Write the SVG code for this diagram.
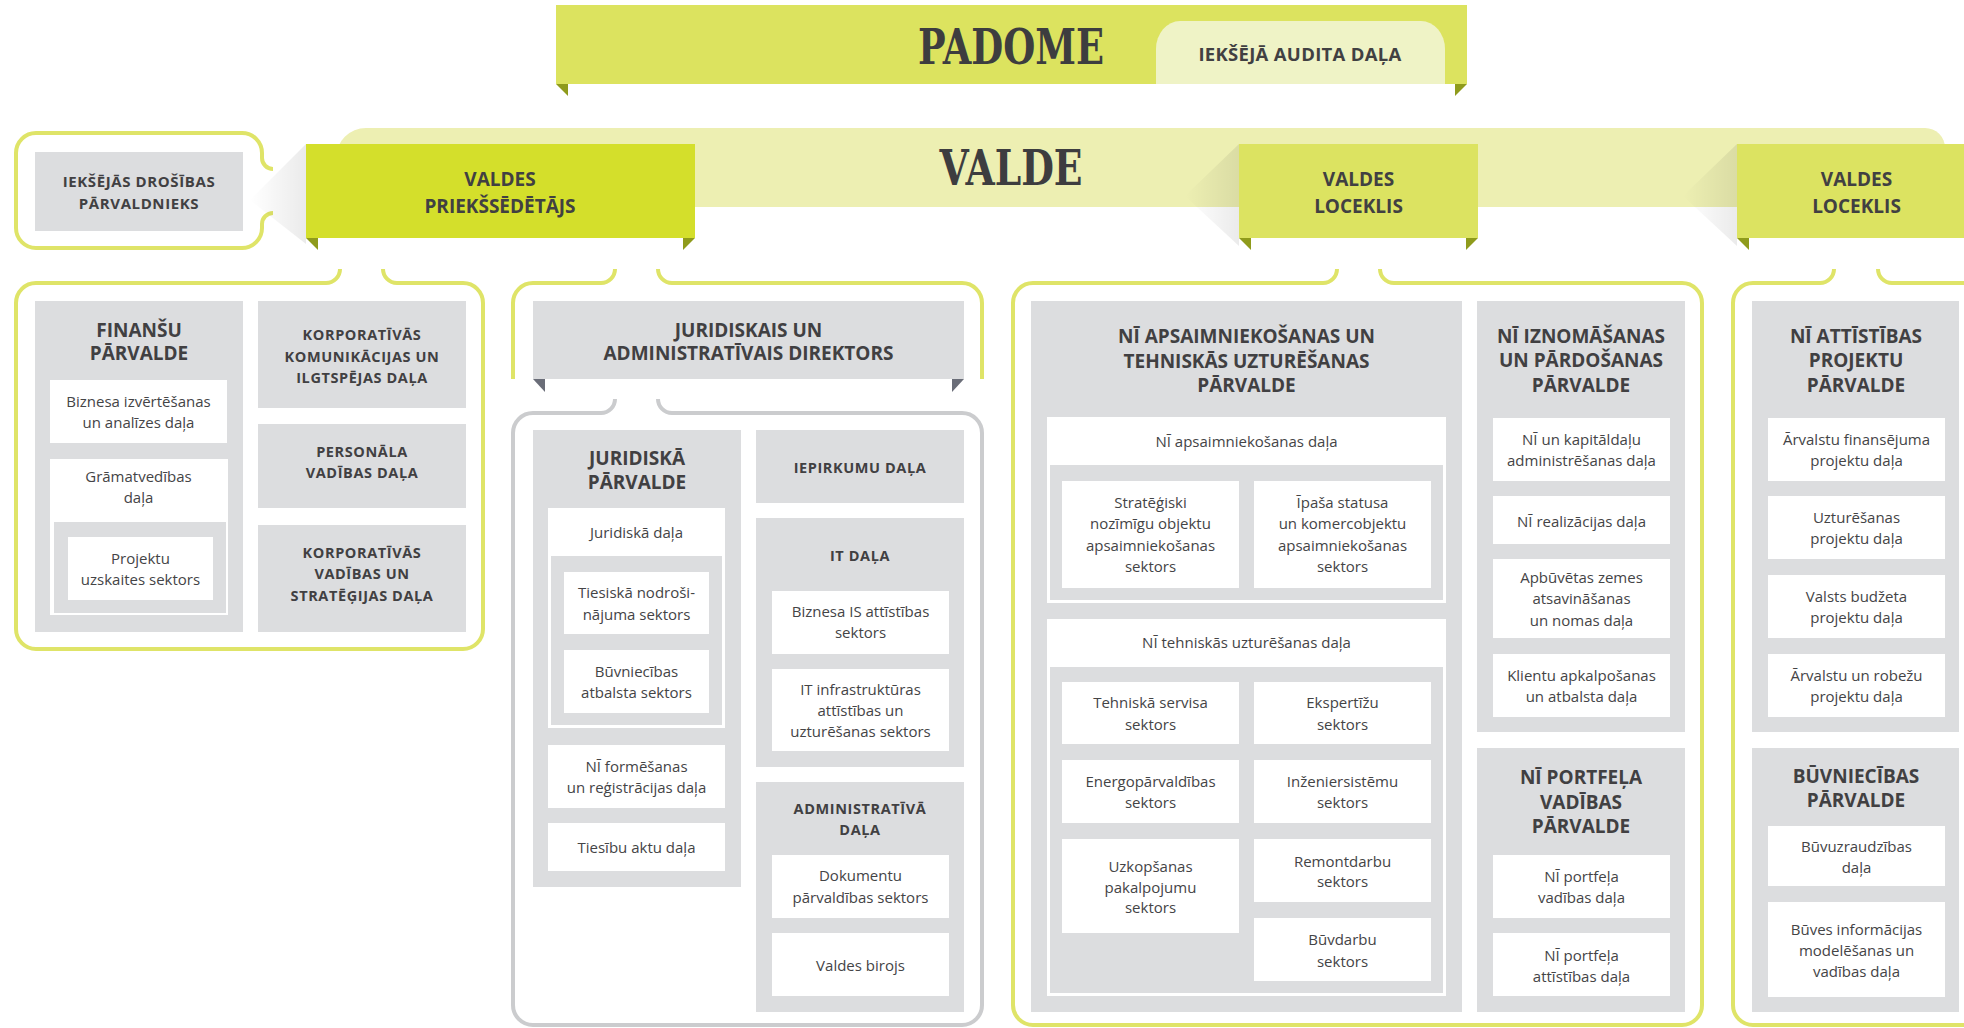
<svg xmlns="http://www.w3.org/2000/svg" width="1964" height="1028" viewBox="0 0 1964 1028">
<style>
.frame{fill:none;stroke:#dfe468;stroke-width:4}
.gframe{fill:none;stroke:#cbccce;stroke-width:4}
.g{fill:#dcdddf}
.w{fill:#ffffff}
.fold{fill:#8f9b1c}
.foldg{fill:#6a6d78}
.h{font-family:"Open Sans","Liberation Sans",sans-serif;font-weight:700;font-size:19px;fill:#414042;text-anchor:middle}
.s{font-family:"Open Sans","Liberation Sans",sans-serif;font-weight:700;font-size:14.5px;letter-spacing:0.6px;fill:#414042;text-anchor:middle}
.t{font-family:"Open Sans","Liberation Sans",sans-serif;font-size:15px;fill:#444446;text-anchor:middle}
.slab{font-family:"DejaVu Serif Condensed","DejaVu Serif",serif;font-weight:700;font-size:48px;fill:#3d3d3f;text-anchor:middle}
</style>
<defs>
<linearGradient id="sh" x1="1" y1="0" x2="0" y2="0">
<stop offset="0" stop-color="#000" stop-opacity="0.08"/>
<stop offset="1" stop-color="#000" stop-opacity="0"/>
</linearGradient>
</defs>
<rect width="1964" height="1028" fill="#ffffff"/>

<g id="padome">
<rect x="556" y="5" width="911" height="79" fill="#dce35f"/>
<polygon class="fold" points="556,84 568,84 568,96"/>
<polygon class="fold" points="1467,84 1455,84 1455,96"/>
<text class="slab" x="1011" y="64" textLength="186" lengthAdjust="spacingAndGlyphs">PADOME</text>
</g>
<g id="iekseja-audita-dala">
<path d="M1156 84 L1156 49 A24 28 0 0 1 1180 21 L1421 21 A24 28 0 0 1 1445 49 L1445 84 Z" fill="#eff3c6"/>
<text class="h" x="1300" y="61" style="font-size:18.5px;letter-spacing:0.3px">IEKŠĒJĀ AUDITA DAĻA</text>
</g>

<g id="valde">
<path d="M336 207 L336 158 A30 30 0 0 1 366 128 L1925 128 A20 20 0 0 1 1945 148 L1945 207 Z" fill="#edefb2"/>
<text class="slab" x="1011" y="185" textLength="143" lengthAdjust="spacingAndGlyphs">VALDE</text>
</g>

<g id="iekshejas-drosibas">
<path class="frame" d="M273 169 A11 11 0 0 1 262 158 L262 153 A20 20 0 0 0 242 133 L36 133 A20 20 0 0 0 16 153 L16 228 A20 20 0 0 0 36 248 L242 248 A20 20 0 0 0 262 228 L262 224 A11 11 0 0 1 273 213"/>
<rect class="g" x="35" y="152" width="208" height="79"/>
<text class="s" x="139" y="187" style="font-size:15px">IEKŠĒJĀS DROŠĪBAS</text>
<text class="s" x="139" y="209" style="font-size:15px">PĀRVALDNIEKS</text>
</g>

<g id="valdes-priekssedetajs">
<polygon points="306,144 250,200 306,244" fill="url(#sh)"/>
<rect x="306" y="144" width="389" height="94" fill="#d4df2b"/>
<polygon class="fold" points="306,238 318,238 318,250"/>
<polygon class="fold" points="695,238 683,238 683,250"/>
<text class="h" x="500" y="186">VALDES</text>
<text class="h" x="500" y="213">PRIEKŠSĒDĒTĀJS</text>
</g>

<g id="valdes-loceklis-1">
<polygon points="1239,144 1185,196 1239,246" fill="url(#sh)"/>
<rect x="1239" y="144" width="239" height="94" fill="#dce361"/>
<polygon class="fold" points="1239,238 1251,238 1251,250"/>
<polygon class="fold" points="1478,238 1466,238 1466,250"/>
<text class="h" x="1358.5" y="186">VALDES</text>
<text class="h" x="1358.5" y="213">LOCEKLIS</text>
</g>

<g id="valdes-loceklis-2">
<polygon points="1737,144 1683,196 1737,246" fill="url(#sh)"/>
<rect x="1737" y="144" width="239" height="94" fill="#dce361"/>
<polygon class="fold" points="1737,238 1749,238 1749,250"/>
<polygon class="fold" points="1976,238 1964,238 1964,250"/>
<text class="h" x="1856.5" y="186">VALDES</text>
<text class="h" x="1856.5" y="213">LOCEKLIS</text>
</g>

<g id="connectors">
<path class="frame" d="M340 269 A14 14 0 0 1 326 283 L36 283 A20 20 0 0 0 16 303 L16 629 A20 20 0 0 0 36 649 L463 649 A20 20 0 0 0 483 629 L483 303 A20 20 0 0 0 463 283 L397 283 A14 14 0 0 1 383 269"/>
<path class="frame" d="M615 269 A14 14 0 0 1 601 283 L533 283 A20 20 0 0 0 513 303 L513 379 M658 269 A14 14 0 0 0 672 283 L962 283 A20 20 0 0 1 982 303 L982 379"/>
<path class="gframe" d="M615 399 A14 14 0 0 1 601 413 L533 413 A20 20 0 0 0 513 433 L513 1005 A20 20 0 0 0 533 1025 L962 1025 A20 20 0 0 0 982 1005 L982 433 A20 20 0 0 0 962 413 L672 413 A14 14 0 0 1 658 399"/>
<path class="frame" d="M1337 269 A14 14 0 0 1 1323 283 L1033 283 A20 20 0 0 0 1013 303 L1013 1005 A20 20 0 0 0 1033 1025 L1682 1025 A20 20 0 0 0 1702 1005 L1702 303 A20 20 0 0 0 1682 283 L1394 283 A14 14 0 0 1 1380 269"/>
<path class="frame" d="M1834 269 A14 14 0 0 1 1820 283 L1753 283 A20 20 0 0 0 1733 303 L1733 1005 A20 20 0 0 0 1753 1025 L2010 1025 M2010 283 L1892 283 A14 14 0 0 1 1878 269"/>
</g>

<g id="finansu-parvalde">
<rect class="g" x="35" y="301" width="208" height="331"/>
<text class="h" x="139" y="337">FINANŠU</text>
<text class="h" x="139" y="360">PĀRVALDE</text>
<rect class="w" x="50" y="380" width="177" height="63"/>
<text class="t" x="138.5" y="407">Biznesa izvērtēšanas</text>
<text class="t" x="138.5" y="428">un analīzes daļa</text>
<rect class="w" x="50" y="459" width="178" height="156"/>
<rect class="g" x="54" y="522" width="172" height="91"/>
<text class="t" x="138.5" y="482">Grāmatvedības</text>
<text class="t" x="138.5" y="503">daļa</text>
<rect class="w" x="68" y="537" width="145" height="63"/>
<text class="t" x="140.5" y="564">Projektu</text>
<text class="t" x="140.5" y="585">uzskaites sektors</text>
</g>

<g id="korporativas-komunikacijas">
<rect class="g" x="258" y="301" width="208" height="107"/>
<text class="s" x="362" y="340">KORPORATĪVĀS</text>
<text class="s" x="362" y="362">KOMUNIKĀCIJAS UN</text>
<text class="s" x="362" y="383">ILGTSPĒJAS DAĻA</text>
</g>
<g id="personala-vadibas">
<rect class="g" x="258" y="424" width="208" height="84"/>
<text class="s" x="362" y="457">PERSONĀLA</text>
<text class="s" x="362" y="478">VADĪBAS DAĻA</text>
</g>
<g id="korporativas-vadibas">
<rect class="g" x="258" y="525" width="208" height="107"/>
<text class="s" x="362" y="558">KORPORATĪVĀS</text>
<text class="s" x="362" y="579">VADĪBAS UN</text>
<text class="s" x="362" y="601">STRATĒĢIJAS DAĻA</text>
</g>

<g id="juridiskais-direktors">
<rect class="g" x="533" y="301" width="431" height="78"/>
<polygon class="foldg" points="533,379 545,379 545,392"/>
<polygon class="foldg" points="964,379 952,379 952,392"/>
<text class="h" x="748.5" y="337">JURIDISKAIS UN</text>
<text class="h" x="748.5" y="360">ADMINISTRATĪVAIS DIREKTORS</text>
</g>

<g id="juridiska-parvalde">
<rect class="g" x="533" y="430" width="208" height="457"/>
<text class="h" x="637" y="465">JURIDISKĀ</text>
<text class="h" x="637" y="489">PĀRVALDE</text>
<rect class="w" x="548" y="508" width="177" height="220"/>
<rect class="g" x="551" y="556" width="171" height="169"/>
<text class="t" x="636.5" y="538">Juridiskā daļa</text>
<rect class="w" x="564" y="572" width="145" height="62"/>
<text class="t" x="636.5" y="598">Tiesiskā nodroši-</text>
<text class="t" x="636.5" y="620">nājuma sektors</text>
<rect class="w" x="564" y="650" width="145" height="63"/>
<text class="t" x="636.5" y="677">Būvniecības</text>
<text class="t" x="636.5" y="698">atbalsta sektors</text>
<rect class="w" x="548" y="745" width="177" height="63"/>
<text class="t" x="636.5" y="772">NĪ formēšanas</text>
<text class="t" x="636.5" y="793">un reģistrācijas daļa</text>
<rect class="w" x="548" y="823" width="177" height="48"/>
<text class="t" x="636.5" y="853">Tiesību aktu daļa</text>
</g>

<g id="iepirkumu-dala">
<rect class="g" x="756" y="430" width="208" height="73"/>
<text class="s" x="860" y="473">IEPIRKUMU DAĻA</text>
</g>

<g id="it-dala">
<rect class="g" x="756" y="518" width="208" height="249"/>
<text class="s" x="860" y="561">IT DAĻA</text>
<rect class="w" x="772" y="591" width="177" height="63"/>
<text class="t" x="860.5" y="617">Biznesa IS attīstības</text>
<text class="t" x="860.5" y="638">sektors</text>
<rect class="w" x="772" y="669" width="177" height="82"/>
<text class="t" x="860.5" y="695">IT infrastruktūras</text>
<text class="t" x="860.5" y="716">attīstības un</text>
<text class="t" x="860.5" y="737">uzturēšanas sektors</text>
</g>

<g id="administrativa-dala">
<rect class="g" x="756" y="782" width="208" height="230"/>
<text class="s" x="860" y="814">ADMINISTRATĪVĀ</text>
<text class="s" x="860" y="835">DAĻA</text>
<rect class="w" x="772" y="855" width="177" height="63"/>
<text class="t" x="860.5" y="881">Dokumentu</text>
<text class="t" x="860.5" y="903">pārvaldības sektors</text>
<rect class="w" x="772" y="933" width="177" height="63"/>
<text class="t" x="860.5" y="971">Valdes birojs</text>
</g>

<g id="ni-apsaimniekosanas-parvalde">
<rect class="g" x="1031" y="301" width="431" height="711"/>
<text class="h" x="1246.5" y="343">NĪ APSAIMNIEKOŠANAS UN</text>
<text class="h" x="1246.5" y="368">TEHNISKĀS UZTURĒŠANAS</text>
<text class="h" x="1246.5" y="392">PĀRVALDE</text>
<rect class="w" x="1047" y="417" width="399" height="186"/>
<rect class="g" x="1050" y="465" width="393" height="135"/>
<text class="t" x="1246.5" y="447">NĪ apsaimniekošanas daļa</text>
<rect class="w" x="1062" y="481" width="177" height="107"/>
<text class="t" x="1150.5" y="508">Stratēģiski</text>
<text class="t" x="1150.5" y="529">nozīmīgu objektu</text>
<text class="t" x="1150.5" y="551">apsaimniekošanas</text>
<text class="t" x="1150.5" y="572">sektors</text>
<rect class="w" x="1254" y="481" width="177" height="107"/>
<text class="t" x="1342.5" y="508">Īpaša statusa</text>
<text class="t" x="1342.5" y="529">un komercobjektu</text>
<text class="t" x="1342.5" y="551">apsaimniekošanas</text>
<text class="t" x="1342.5" y="572">sektors</text>
<rect class="w" x="1047" y="619" width="399" height="377"/>
<rect class="g" x="1050" y="667" width="393" height="326"/>
<text class="t" x="1246.5" y="648">NĪ tehniskās uzturēšanas daļa</text>
<rect class="w" x="1062" y="682" width="177" height="62"/>
<text class="t" x="1150.5" y="708">Tehniskā servisa</text>
<text class="t" x="1150.5" y="730">sektors</text>
<rect class="w" x="1254" y="682" width="177" height="62"/>
<text class="t" x="1342.5" y="708">Ekspertīžu</text>
<text class="t" x="1342.5" y="730">sektors</text>
<rect class="w" x="1062" y="760" width="177" height="63"/>
<text class="t" x="1150.5" y="787">Energopārvaldības</text>
<text class="t" x="1150.5" y="808">sektors</text>
<rect class="w" x="1254" y="760" width="177" height="63"/>
<text class="t" x="1342.5" y="787">Inženiersistēmu</text>
<text class="t" x="1342.5" y="808">sektors</text>
<rect class="w" x="1062" y="839" width="177" height="94"/>
<text class="t" x="1150.5" y="872">Uzkopšanas</text>
<text class="t" x="1150.5" y="893">pakalpojumu</text>
<text class="t" x="1150.5" y="913">sektors</text>
<rect class="w" x="1254" y="839" width="177" height="63"/>
<text class="t" x="1342.5" y="867">Remontdarbu</text>
<text class="t" x="1342.5" y="887">sektors</text>
<rect class="w" x="1254" y="918" width="177" height="63"/>
<text class="t" x="1342.5" y="945">Būvdarbu</text>
<text class="t" x="1342.5" y="967">sektors</text>
</g>

<g id="ni-iznomasanas-parvalde">
<rect class="g" x="1477" y="301" width="208" height="431"/>
<text class="h" x="1581" y="343">NĪ IZNOMĀŠANAS</text>
<text class="h" x="1581" y="367">UN PĀRDOŠANAS</text>
<text class="h" x="1581" y="392">PĀRVALDE</text>
<rect class="w" x="1493" y="418" width="177" height="63"/>
<text class="t" x="1581.5" y="445">NĪ un kapitāldaļu</text>
<text class="t" x="1581.5" y="466">administrēšanas daļa</text>
<rect class="w" x="1493" y="496" width="177" height="48"/>
<text class="t" x="1581.5" y="527">NĪ realizācijas daļa</text>
<rect class="w" x="1493" y="559" width="177" height="79"/>
<text class="t" x="1581.5" y="583">Apbūvētas zemes</text>
<text class="t" x="1581.5" y="604">atsavināšanas</text>
<text class="t" x="1581.5" y="626">un nomas daļa</text>
<rect class="w" x="1493" y="654" width="177" height="63"/>
<text class="t" x="1581.5" y="681">Klientu apkalpošanas</text>
<text class="t" x="1581.5" y="702">un atbalsta daļa</text>
</g>

<g id="ni-portfela-vadibas-parvalde">
<rect class="g" x="1477" y="748" width="208" height="264"/>
<text class="h" x="1581" y="784">NĪ PORTFEĻA</text>
<text class="h" x="1581" y="809">VADĪBAS</text>
<text class="h" x="1581" y="833">PĀRVALDE</text>
<rect class="w" x="1493" y="855" width="177" height="63"/>
<text class="t" x="1581.5" y="882">NĪ portfeļa</text>
<text class="t" x="1581.5" y="903">vadības daļa</text>
<rect class="w" x="1493" y="933" width="177" height="63"/>
<text class="t" x="1581.5" y="961">NĪ portfeļa</text>
<text class="t" x="1581.5" y="982">attīstības daļa</text>
</g>

<g id="ni-attistibas-projektu-parvalde">
<rect class="g" x="1752" y="301" width="207" height="431"/>
<text class="h" x="1856" y="343">NĪ ATTĪSTĪBAS</text>
<text class="h" x="1856" y="367">PROJEKTU</text>
<text class="h" x="1856" y="392">PĀRVALDE</text>
<rect class="w" x="1768" y="418" width="177" height="63"/>
<text class="t" x="1856.5" y="445">Ārvalstu finansējuma</text>
<text class="t" x="1856.5" y="466">projektu daļa</text>
<rect class="w" x="1768" y="496" width="177" height="63"/>
<text class="t" x="1856.5" y="523">Uzturēšanas</text>
<text class="t" x="1856.5" y="544">projektu daļa</text>
<rect class="w" x="1768" y="575" width="177" height="63"/>
<text class="t" x="1856.5" y="602">Valsts budžeta</text>
<text class="t" x="1856.5" y="623">projektu daļa</text>
<rect class="w" x="1768" y="654" width="177" height="63"/>
<text class="t" x="1856.5" y="681">Ārvalstu un robežu</text>
<text class="t" x="1856.5" y="702">projektu daļa</text>
</g>

<g id="buvniecibas-parvalde">
<rect class="g" x="1752" y="748" width="207" height="264"/>
<text class="h" x="1856" y="783">BŪVNIECĪBAS</text>
<text class="h" x="1856" y="807">PĀRVALDE</text>
<rect class="w" x="1768" y="826" width="177" height="60"/>
<text class="t" x="1856.5" y="852">Būvuzraudzības</text>
<text class="t" x="1856.5" y="873">daļa</text>
<rect class="w" x="1768" y="902" width="177" height="95"/>
<text class="t" x="1856.5" y="935">Būves informācijas</text>
<text class="t" x="1856.5" y="956">modelēšanas un</text>
<text class="t" x="1856.5" y="977">vadības daļa</text>
</g>
</svg>
